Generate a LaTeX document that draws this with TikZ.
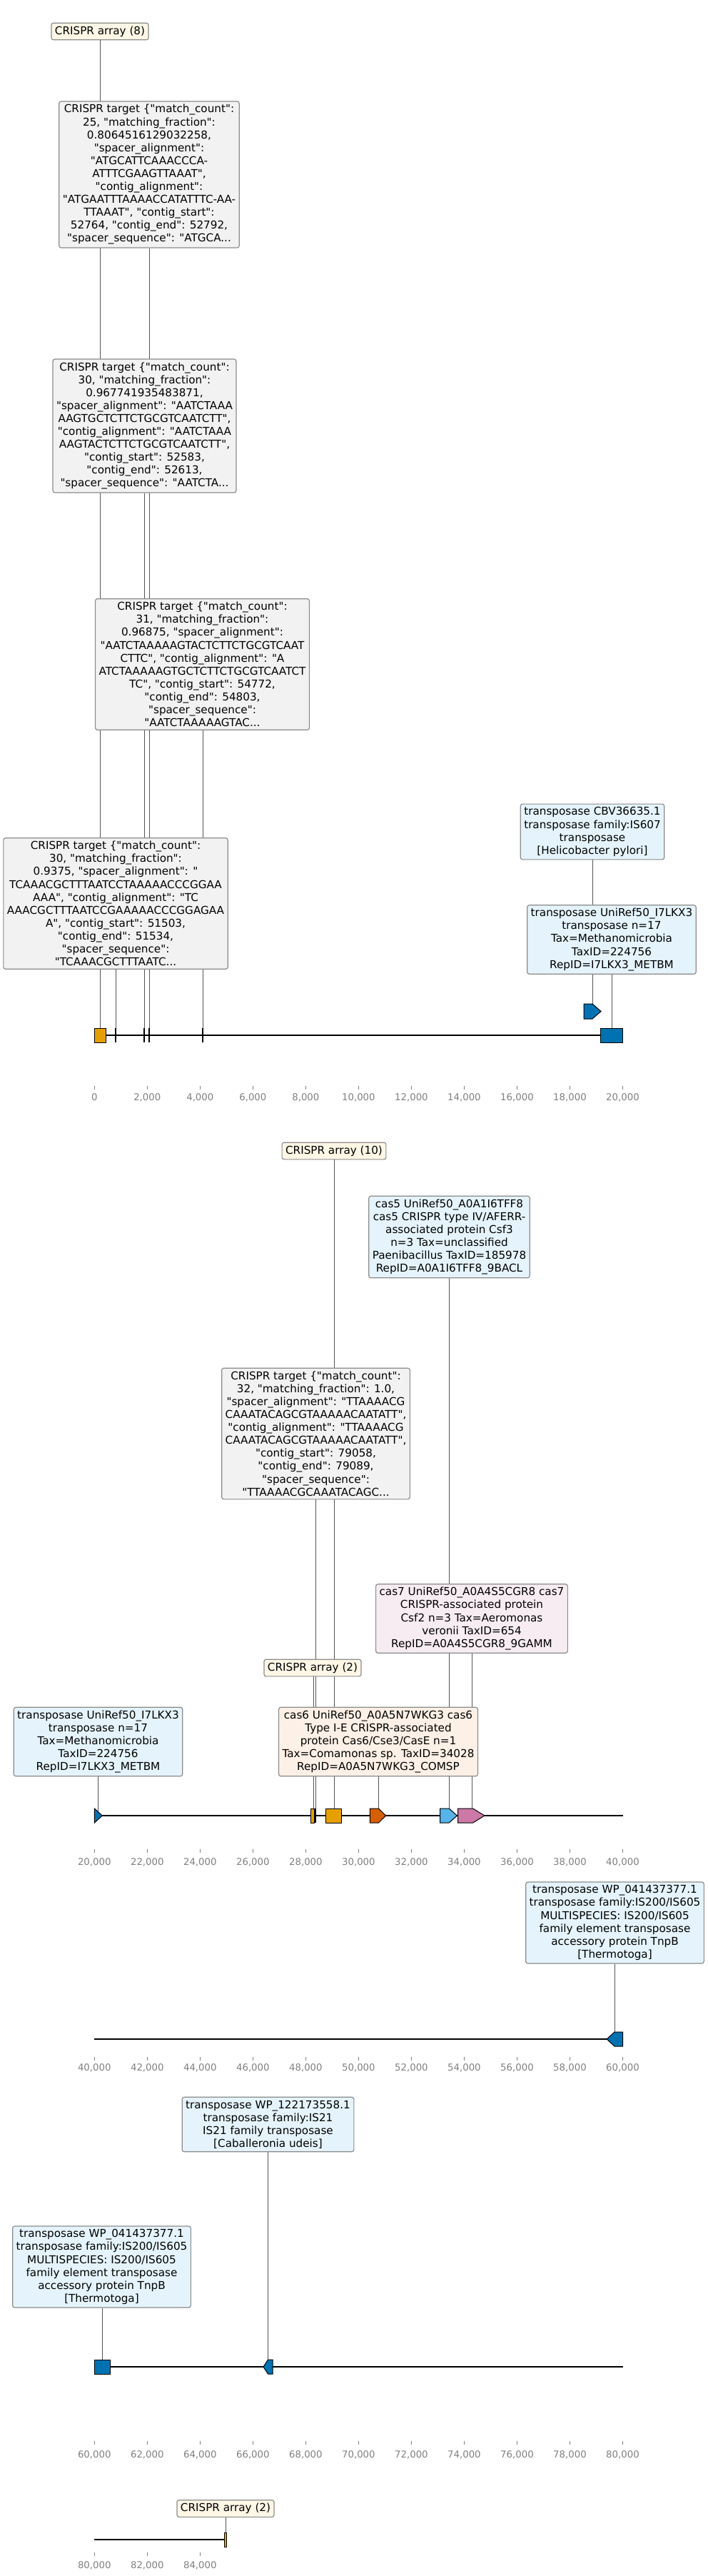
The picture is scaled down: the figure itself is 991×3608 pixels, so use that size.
\documentclass[tikz,border=0pt]{standalone}
\usepackage{fontspec}
\setmainfont{DejaVu Sans}
\newfontfamily\dvs{DejaVu Sans}
\usetikzlibrary{backgrounds}
\definecolor{cOrange}{HTML}{E69F00}
\definecolor{cBlue}{HTML}{0072B2}
\definecolor{cVerm}{HTML}{D55E00}
\definecolor{cSky}{HTML}{56B4E9}
\definecolor{cPink}{HTML}{CC79A7}
\definecolor{fArr}{HTML}{FEF7E6}
\definecolor{fTgt}{HTML}{F2F2F2}
\definecolor{fBlue}{HTML}{E5F4FC}
\definecolor{fPeach}{HTML}{FDF0E6}
\definecolor{fPinkL}{HTML}{F6ECF2}
\definecolor{cBorder}{HTML}{8C8C8C}
\definecolor{cConn}{HTML}{555555}
\definecolor{cTick}{HTML}{808080}
\tikzset{
 lbl/.style={draw=cBorder, line width=1.2pt, rounded corners=3pt, align=center,
   inner xsep=5pt, inner ysep=4.5pt, font=\dvs\fontsize{15.2}{18.1}\selectfont, text=black},
 arrbox/.style={lbl, fill=fArr},
 tgtbox/.style={lbl, fill=fTgt},
 bluebox/.style={lbl, fill=fBlue},
 peachbox/.style={lbl, fill=fPeach},
 pinkbox/.style={lbl, fill=fPinkL},
 conn/.style={draw=cConn, line width=1pt},
 feat/.style={draw=black, line width=1pt},
 thinfeat/.style={fill=black},
 track/.style={line width=2.4pt, draw=black},
 axtick/.style={draw=cTick, line width=0.8pt},
 axlab/.style={text=cTick, font=\dvs\fontsize{13.3}{16}\selectfont, anchor=base, inner sep=0pt},
}
% #1 name prefix, #2 tick top y, #3 label baseline y, #4 start (thousands), #5 last index
\newcommand\drawaxis[5]{%
 \foreach \i in {0,...,#5}{%
   \pgfmathsetmacro\xx{132.3+\i*74.02}%
   \pgfmathtruncatemacro\vv{#4+2*\i}%
   \draw[axtick] (\xx,#2) -- (\xx,#2+5);
   \node[axlab] (#1\i) at (\xx,#3) {\ifnum\vv=0 0\else\vv,000\fi};
 }}
\begin{document}
\begin{tikzpicture}[x=1pt,y=-1pt]
\useasboundingbox (0,0) rectangle (991,3608);

%%%%%%%%%%%%%%%% Panel 1 labels
\node[arrbox] (arr8) at (140,44) {CRISPR array (8)};
\node[tgtbox] (t1) at (209,244.5) {CRISPR target \{"match\_count":\\
25, "matching\_fraction":\\
0.8064516129032258,\\
"spacer\_alignment":\\
"ATGCATTCAAACCCA-\\
ATTTCGAAGTTAAAT",\\
"contig\_alignment":\\
"ATGAATTTAAAACCATATTTC-AA-\\
TTAAAT", "contig\_start":\\
52764, "contig\_end": 52792,\\
"spacer\_sequence": "ATGCA...};
\node[tgtbox] (t2) at (202.5,596.5) {CRISPR target \{"match\_count":\\
30, "matching\_fraction":\\
0.967741935483871,\\
"spacer\_alignment": "AATCTAAA\\
AAGTGCTCTTCTGCGTCAATCTT",\\
"contig\_alignment": "AATCTAAA\\
AAGTACTCTTCTGCGTCAATCTT",\\
"contig\_start": 52583,\\
"contig\_end": 52613,\\
"spacer\_sequence": "AATCTA...};
\node[tgtbox] (t3) at (283.5,930.5) {CRISPR target \{"match\_count":\\
31, "matching\_fraction":\\
0.96875, "spacer\_alignment":\\
"AATCTAAAAAGTACTCTTCTGCGTCAAT\\
CTTC", "contig\_alignment": "A\\
ATCTAAAAAGTGCTCTTCTGCGTCAATCT\\
TC", "contig\_start": 54772,\\
"contig\_end": 54803,\\
"spacer\_sequence":\\
"AATCTAAAAAGTAC...};
\node[tgtbox] (t4) at (162,1265.5) {CRISPR target \{"match\_count":\\
30, "matching\_fraction":\\
0.9375, "spacer\_alignment": "\\
TCAAACGCTTTAATCCTAAAAACCCGGAA\\
AAA", "contig\_alignment": "TC\\
AAACGCTTTAATCCGAAAAACCCGGAGAA\\
A", "contig\_start": 51503,\\
"contig\_end": 51534,\\
"spacer\_sequence":\\
"TCAAACGCTTTAATC...};
\node[bluebox] (cbv) at (830,1165) {transposase CBV36635.1\\
transposase family:IS607\\
transposase\\
{[}Helicobacter pylori{]}};
\node[bluebox] (uni1) at (857,1316) {transposase UniRef50\_I7LKX3\\
transposase n=17\\
Tax=Methanomicrobia\\
TaxID=224756\\
RepID=I7LKX3\_METBM};

%%%%%%%%%%%%%%%% Panel 1 track
\draw[track] (132.3,1450) -- (872.5,1450);
\draw[feat, fill=cOrange] (132.3,1440) rectangle (148,1460);
\coordinate (f1a) at (140,1440);
\fill[thinfeat] (161,1440) rectangle (163,1460); \coordinate (f1b) at (162,1440);
\fill[thinfeat] (201,1440) rectangle (203,1460); \coordinate (f1c) at (202,1440);
\fill[thinfeat] (208,1440) rectangle (210,1460); \coordinate (f1d) at (209,1440);
\fill[thinfeat] (283,1440) rectangle (285,1460); \coordinate (f1e) at (284,1440);
\draw[feat, fill=cBlue] (818,1406) -- (830,1406) -- (842,1416.5) -- (830,1427) -- (818,1427) -- cycle;
\coordinate (f1f) at (830,1406);
\draw[feat, fill=cBlue] (841,1440) rectangle (872.5,1460);
\coordinate (f1g) at (857,1440);
\drawaxis{axA}{1521}{1541}{0}{10}

%%%%%%%%%%%%%%%% Panel 2 labels
\node[arrbox] (arr10) at (468,1612) {CRISPR array (10)};
\node[bluebox] (cas5) at (629.5,1732.5) {cas5 UniRef50\_A0A1I6TFF8\\
cas5 CRISPR type IV/AFERR-\\
associated protein Csf3\\
n=3 Tax=unclassified\\
Paenibacillus TaxID=185978\\
RepID=A0A1I6TFF8\_9BACL};
\node[tgtbox] (t5) at (442.5,2008) {CRISPR target \{"match\_count":\\
32, "matching\_fraction": 1.0,\\
"spacer\_alignment": "TTAAAACG\\
CAAATACAGCGTAAAAACAATATT",\\
"contig\_alignment": "TTAAAACG\\
CAAATACAGCGTAAAAACAATATT",\\
"contig\_start": 79058,\\
"contig\_end": 79089,\\
"spacer\_sequence":\\
"TTAAAACGCAAATACAGC...};
\node[pinkbox] (cas7) at (661,2267) {cas7 UniRef50\_A0A4S5CGR8 cas7\\
CRISPR-associated protein\\
Csf2 n=3 Tax=Aeromonas\\
veronii TaxID=654\\
RepID=A0A4S5CGR8\_9GAMM};
\node[arrbox] (arr2a) at (438,2336) {CRISPR array (2)};
\node[bluebox] (uni2) at (137.5,2439.5) {transposase UniRef50\_I7LKX3\\
transposase n=17\\
Tax=Methanomicrobia\\
TaxID=224756\\
RepID=I7LKX3\_METBM};
\node[peachbox] (cas6) at (530,2439.5) {cas6 UniRef50\_A0A5N7WKG3 cas6\\
Type I-E CRISPR-associated\\
protein Cas6/Cse3/CasE n=1\\
Tax=Comamonas sp. TaxID=34028\\
RepID=A0A5N7WKG3\_COMSP};

%%%%%%%%%%%%%%%% Panel 2 track
\draw[track] (132.3,2543) -- (872.5,2543);
\draw[feat, fill=cBlue] (132.3,2533) -- (143.3,2543) -- (132.3,2553) -- cycle;
\coordinate (f2a) at (137.5,2538);
\draw[feat, fill=cOrange, line width=0.8pt] (435,2533) rectangle (440,2553);
\coordinate (f2b) at (439,2533);
\fill[thinfeat] (441,2533) rectangle (442.6,2553); \coordinate (f2c) at (442,2533);
\draw[feat, fill=cOrange] (456.5,2533) rectangle (478.4,2553);
\coordinate (f2d) at (468,2533);
\draw[feat, fill=cVerm] (518.4,2533) -- (530.4,2533) -- (540.6,2543) -- (530.4,2553) -- (518.4,2553) -- cycle;
\coordinate (f2e) at (530.4,2533);
\draw[feat, fill=cSky] (616.7,2533) -- (629.2,2533) -- (640.5,2543) -- (629.2,2553) -- (616.7,2553) -- cycle;
\coordinate (f2f) at (629.6,2533);
\draw[feat, fill=cPink] (641.6,2533) -- (662.7,2533) -- (678.9,2543) -- (662.7,2553) -- (641.6,2553) -- cycle;
\coordinate (f2g) at (661.2,2533);
\drawaxis{axB}{2590}{2612}{20}{10}

%%%%%%%%%%%%%%%% Panel 3
\node[bluebox] (wp1) at (861.5,2693) {transposase WP\_041437377.1\\
transposase family:IS200/IS605\\
MULTISPECIES: IS200/IS605\\
family element transposase\\
accessory protein TnpB\\
{[}Thermotoga{]}};
\draw[track] (132.3,2856) -- (872.5,2856);
\draw[feat, fill=cBlue] (850.2,2856) -- (861,2846) -- (872.5,2846) -- (872.5,2866) -- (861,2866) -- cycle;
\coordinate (f3a) at (861,2846);
\drawaxis{axC}{2881}{2900}{40}{10}

%%%%%%%%%%%%%%%% Panel 4
\node[bluebox] (wp2) at (375.5,2975.5) {transposase WP\_122173558.1\\
transposase family:IS21\\
IS21 family transposase\\
{[}Caballeronia udeis{]}};
\node[bluebox] (wp3) at (142.5,3175) {transposase WP\_041437377.1\\
transposase family:IS200/IS605\\
MULTISPECIES: IS200/IS605\\
family element transposase\\
accessory protein TnpB\\
{[}Thermotoga{]}};
\draw[track] (132.3,3315) -- (872.5,3315);
\draw[feat, fill=cBlue] (132.3,3305) rectangle (154,3325);
\coordinate (f4a) at (143,3305);
\draw[feat, fill=cBlue] (369,3315) -- (375.5,3305) -- (382,3305) -- (382,3325) -- (375.5,3325) -- cycle;
\coordinate (f4b) at (375.7,3305);
\drawaxis{axD}{3419}{3442}{60}{10}

%%%%%%%%%%%%%%%% Panel 5
\node[arrbox] (arr2b) at (316,3513.5) {CRISPR array (2)};
\draw[track] (132.3,3557) -- (316,3557);
\draw[feat, fill=cOrange, line width=0.8pt] (314,3547) rectangle (317.5,3567);
\coordinate (f5a) at (316,3547);
\drawaxis{axE}{3575}{3597}{80}{2}

%%%%%%%%%%%%%%%% connectors (behind the label boxes)
\begin{pgfonlayer}{background}
\draw[conn] (f1a) -- (f1a |- arr8.south);
\draw[conn] (f1d) -- (f1d |- t1.south);
\draw[conn] (f1c) -- (f1c |- t2.south);
\draw[conn] (f1e) -- (f1e |- t3.south);
\draw[conn] (f1b) -- (f1b |- t4.south);
\draw[conn] (f1f) -- (f1f |- cbv.south);
\draw[conn] (f1g) -- (f1g |- uni1.south);
\draw[conn] (f2a) -- (f2a |- uni2.south);
\draw[conn] (f2b) -- (f2b |- arr2a.south);
\draw[conn] (f2c) -- (f2c |- t5.south);
\draw[conn] (f2d) -- (f2d |- arr10.south);
\draw[conn] (f2e) -- (f2e |- cas6.south);
\draw[conn] (f2f) -- (f2f |- cas5.south);
\draw[conn] (f2g) -- (f2g |- cas7.south);
\draw[conn] (f3a) -- (f3a |- wp1.south);
\draw[conn] (f4a) -- (f4a |- wp3.south);
\draw[conn] (f4b) -- (f4b |- wp2.south);
\draw[conn] (f5a) -- (f5a |- arr2b.south);
\end{pgfonlayer}
\end{tikzpicture}
\end{document}
